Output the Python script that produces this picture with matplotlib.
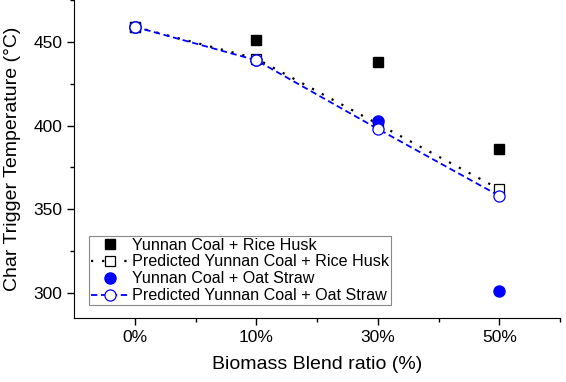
import matplotlib.pyplot as plt
import numpy as np

plt.rcParams['font.family'] = ['Liberation Sans', 'DejaVu Sans']

# data
blend = ['0%', '10%', '30%', '50%']
rice_husk = [459, 451, 438, 386]
pred_rice_husk = [459, 440, 401, 362]
oat_straw = [459, 439, 403, 301]
pred_oat_straw = [459, 439, 398, 358]

x = np.arange(len(blend))

fig = plt.figure(figsize=(5.66, 3.82), dpi=100)
ax = fig.add_axes([74/566, 1 - 318/382, 486/566, 318/382])

ax.plot(x, rice_husk, 's', color='black', markersize=7, label='Yunnan Coal + Rice Husk')
ax.plot(x, pred_rice_husk, color='black', lw=1.6, dashes=(1, 4), marker='s', markersize=7,
        markerfacecolor='white', markeredgecolor='black', markeredgewidth=0.9,
        label='Predicted Yunnan Coal + Rice Husk')
ax.plot(x, oat_straw, 'o', color='blue', markersize=8, label='Yunnan Coal + Oat Straw')
ax.plot(x, pred_oat_straw, color='blue', lw=1.3, dashes=(3.5, 2), marker='o', markersize=8,
        markerfacecolor='white', markeredgecolor='blue', markeredgewidth=0.9,
        label='Predicted Yunnan Coal + Oat Straw')

ax.set_xlim(-0.5, 3.5)
ax.set_ylim(285, 475)
ax.set_xticks(x)
ax.set_xticklabels(blend)
ax.set_xticks([0.5, 1.5, 2.5, 3.5], minor=True)
ax.set_yticks([300, 350, 400, 450])
ax.set_yticks([325, 375, 425, 475], minor=True)
ax.tick_params(which='major', length=5, width=1, labelsize=12.5, direction='out')
ax.tick_params(which='minor', length=3, width=1, direction='out')
ax.spines['top'].set_visible(False)
ax.spines['right'].set_visible(False)

ax.set_xlabel('Biomass Blend ratio (%)', fontsize=14, labelpad=8)
ax.set_ylabel('Char Trigger Temperature (°C)', fontsize=14, labelpad=9)

leg = ax.legend(loc='lower left', bbox_to_anchor=(0.031, 0.04), fontsize=11.6,
                frameon=True, fancybox=False, edgecolor='#888888', framealpha=1,
                handlelength=2.4, handletextpad=0.15, borderpad=0.12, labelspacing=0.12,
                borderaxespad=0)
leg.get_frame().set_linewidth(0.8)

fig.savefig('out.png', dpi=100)
